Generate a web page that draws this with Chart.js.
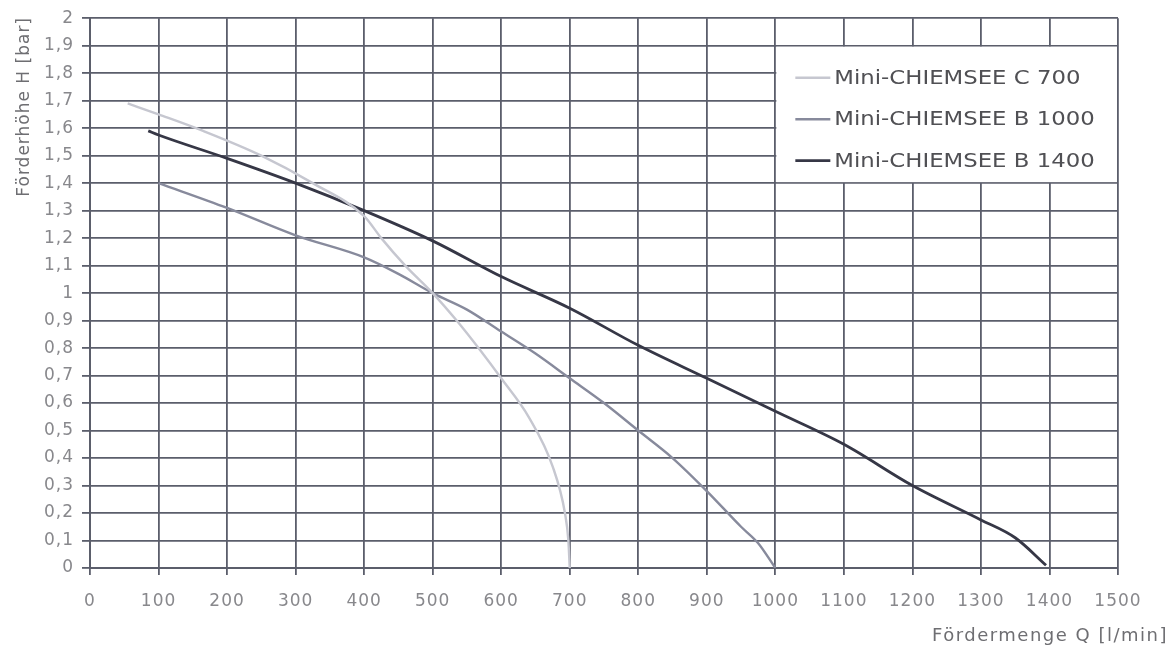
<!DOCTYPE html>
<html>
<head>
    <title>Kennlinien Mini-CHIEMSEE</title>
    <script src="https://cdn.jsdelivr.net/npm/chart.js"></script>
    <style>
        html, body { margin: 0; padding: 0; background: #ffffff; }
        #wrap { width: 1169px; height: 654px; }
    </style>
</head>
<body>
<div id="wrap"><canvas id="kennlinie" width="1169" height="654"></canvas></div>
<script>
// Förderhöhe H [bar] über Fördermenge Q [l/min]
const seriesNames = ['Mini-CHIEMSEE C 700', 'Mini-CHIEMSEE B 1000', 'Mini-CHIEMSEE B 1400'];

const c700Q = [55, 100, 165, 250, 325, 400, 425, 460, 500, 535, 570, 600, 640, 675, 693, 698, 700];
const c700H = [1.69, 1.65, 1.59, 1.50, 1.40, 1.28, 1.20, 1.10, 1.00, 0.90, 0.79, 0.69, 0.55, 0.37, 0.20, 0.10, 0.00];

const b1000Q = [100, 200, 300, 400, 450, 500, 550, 600, 650, 700, 750, 800, 850, 900, 950, 975, 1000];
const b1000H = [1.40, 1.31, 1.21, 1.13, 1.07, 1.00, 0.94, 0.86, 0.78, 0.69, 0.60, 0.50, 0.40, 0.28, 0.15, 0.09, 0.00];

const b1400Q = [85, 100, 200, 300, 400, 500, 600, 700, 800, 900, 1000, 1100, 1200, 1300, 1350, 1395];
const b1400H = [1.59, 1.575, 1.49, 1.40, 1.30, 1.19, 1.06, 0.945, 0.81, 0.69, 0.57, 0.45, 0.30, 0.175, 0.11, 0.01];

const xTickLabels = ['0', '100', '200', '300', '400', '500', '600', '700', '800', '900', '1000', '1100', '1200', '1300', '1400', '1500'];
const yTickLabels = ['0', '0,1', '0,2', '0,3', '0,4', '0,5', '0,6', '0,7', '0,8', '0,9', '1',
                     '1,1', '1,2', '1,3', '1,4', '1,5', '1,6', '1,7', '1,8', '1,9', '2'];

const xTitle = 'Fördermenge Q [l/min]';
const yTitle = 'Förderhöhe H [bar]';

const lineColors = ['#c6c7d0', '#878a9c', '#363746'];
const lineWidths = [2.4, 2.4, 2.8];

function toPoints(qs, hs) {
    return qs.map((q, i) => ({ x: q, y: hs[i] }));
}

const fontFam = '"DejaVu Sans", "Liberation Sans", sans-serif';
const gridColor = '#5b5e6b';
const tickColor = '#88888c';

// Schrift im Original ist breit gezogen -> etwas Zeichenabstand
const spacing = {
    id: 'spacing',
    beforeDraw(chart) { chart.ctx.letterSpacing = '1px'; }
};

// Achsentitel selbst zeichnen (x-Titel ragt rechts über die Zeichenfläche)
const axisTitles = {
    id: 'axisTitles',
    afterDraw(chart) {
        const ctx = chart.ctx;
        ctx.save();
        ctx.fillStyle = '#6e6e72';
        ctx.letterSpacing = '1.5px';
        ctx.font = '18px ' + fontFam;
        ctx.textAlign = 'right';
        ctx.textBaseline = 'alphabetic';
        ctx.fillText(xTitle, 1168, 641);
        ctx.letterSpacing = '1px';
        ctx.font = '17px ' + fontFam;
        ctx.translate(29, 17);
        ctx.rotate(-Math.PI / 2);
        ctx.fillText(yTitle, 0, 0);
        ctx.restore();
    }
};

// Legende innen oben rechts, als weißes Feld zwischen den Gitterlinien
const innerLegend = {
    id: 'innerLegend',
    beforeDatasetsDraw(chart) {
        const ctx = chart.ctx;
        const xs = chart.scales.x, ys = chart.scales.y;
        const left = xs.getPixelForValue(1000), right = xs.getPixelForValue(1500);
        const top = ys.getPixelForValue(1.9), bottom = ys.getPixelForValue(1.4);
        ctx.save();
        ctx.fillStyle = '#ffffff';
        ctx.fillRect(left + 1, top + 1, right - left - 2, bottom - top - 2);
        ctx.restore();
    },
    afterDatasetsDraw(chart) {
        const ctx = chart.ctx;
        const xs = chart.scales.x, ys = chart.scales.y;
        const left = xs.getPixelForValue(1000);
        const top = ys.getPixelForValue(1.9);
        ctx.save();
        ctx.letterSpacing = '0px';
        ctx.font = '19px ' + fontFam;
        ctx.textBaseline = 'middle';
        seriesNames.forEach((name, i) => {
            const yy = top + 32 + i * 41.5;
            ctx.strokeStyle = lineColors[i];
            ctx.lineWidth = lineWidths[i];
            ctx.beginPath();
            ctx.moveTo(left + 20, yy);
            ctx.lineTo(left + 55, yy);
            ctx.stroke();
            ctx.save();
            ctx.translate(left + 59, yy + 1);
            ctx.scale(1.2, 1);
            ctx.fillStyle = '#505054';
            ctx.fillText(name, 0, 0);
            ctx.restore();
        });
        ctx.restore();
    }
};

const ctx = document.getElementById('kennlinie').getContext('2d');
const chart = new Chart(ctx, {
    type: 'scatter',
    data: {
        datasets: [
            { label: seriesNames[0], data: toPoints(c700Q, c700H) },
            { label: seriesNames[1], data: toPoints(b1000Q, b1000H) },
            { label: seriesNames[2], data: toPoints(b1400Q, b1400H) }
        ].map((d, i) => Object.assign(d, {
            showLine: true,
            borderColor: lineColors[i],
            borderWidth: lineWidths[i],
            pointRadius: 0,
            cubicInterpolationMode: 'monotone',
            fill: false
        }))
    },
    options: {
        responsive: false,
        animation: false,
        layout: { padding: { top: 18, right: 51, left: 0, bottom: 0 } },
        scales: {
            x: {
                type: 'linear',
                min: 0,
                max: 1500,
                ticks: {
                    stepSize: 100,
                    color: tickColor,
                    font: { family: fontFam, size: 17 },
                    padding: 16,
                    callback: (v, i) => xTickLabels[i]
                },
                grid: { color: gridColor, lineWidth: 1.8, tickLength: 7, tickColor: gridColor },
                border: { color: gridColor, width: 2 },
                afterFit(scale) { scale.height = 86; }
            },
            y: {
                min: 0,
                max: 2,
                ticks: {
                    stepSize: 0.1,
                    color: tickColor,
                    font: { family: fontFam, size: 17 },
                    padding: 8,
                    callback: (v, i) => yTickLabels[i]
                },
                grid: { color: gridColor, lineWidth: 1.8, tickLength: 8, tickColor: gridColor },
                border: { color: gridColor, width: 2 },
                afterFit(scale) { scale.width = 90; }
            }
        },
        plugins: {
            legend: { display: false },
            tooltip: { enabled: false }
        }
    },
    plugins: [spacing, innerLegend, axisTitles]
});
</script>
</body>
</html>
